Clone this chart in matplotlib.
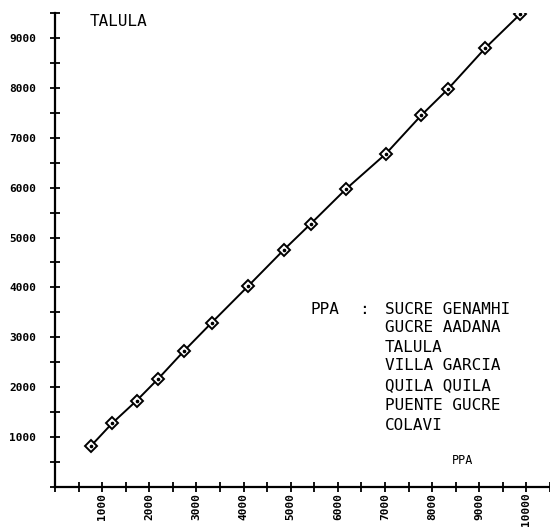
import matplotlib
matplotlib.use("Agg")
import matplotlib.pyplot as plt
from matplotlib.ticker import MultipleLocator, FixedLocator

# Cumulative PPA (x) vs cumulative TALULA (y)
ppa_cum = [760, 1215, 1730, 2190, 2735, 3320, 4100, 4850, 5430, 6170,
           7020, 7770, 8330, 9130, 9860]
talula_cum = [820, 1280, 1730, 2170, 2725, 3290, 4030, 4750, 5280, 5970,
              6680, 7450, 7970, 8800, 9470]

title = "TALULA"
stations = ["SUCRE GENAMHI", "GUCRE AADANA", "TALULA", "VILLA GARCIA",
            "QUILA QUILA", "PUENTE GUCRE", "COLAVI"]
xtick_vals = [1000, 2000, 3000, 4000, 5000, 6000, 7000, 8000, 9000, 10000]
ytick_vals = [1000, 2000, 3000, 4000, 5000, 6000, 7000, 8000, 9000]
xlabel = "PPA"

W, H = 550, 529
fig = plt.figure(figsize=(W / 100, H / 100), dpi=100)
plt.rcParams['font.family'] = ['DejaVu Sans Mono']

def fx(px):
    return px / W

def fy(py):
    return 1 - py / H

left, right = fx(55), fx(550)
bottom, top = fy(487), fy(13)
ax = fig.add_axes([left, bottom, right - left, top - bottom])
ax.set_xlim(0, 10500)
ax.set_ylim(0, 9500)

ax.plot(ppa_cum, talula_cum, color="black", lw=1.4, marker="D", ms=6.5,
        mfc="white", mec="black", mew=1.4, zorder=3)
ax.plot(ppa_cum, talula_cum, ls="none", marker="o", ms=1.6, color="black",
        zorder=4)

for s in ["top", "right"]:
    ax.spines[s].set_visible(False)
for s in ["left", "bottom"]:
    ax.spines[s].set_linewidth(1.6)

ax.xaxis.set_major_locator(FixedLocator(xtick_vals))
ax.yaxis.set_major_locator(FixedLocator(ytick_vals))
ax.xaxis.set_minor_locator(MultipleLocator(500))
ax.yaxis.set_minor_locator(MultipleLocator(500))
ax.set_xticklabels([str(v) for v in xtick_vals], rotation=90, fontsize=8,
                   fontweight="bold")
ax.set_yticklabels([str(v) for v in ytick_vals], fontsize=8,
                   fontweight="bold")
ax.tick_params(which="both", direction="inout", length=7, width=1.3,
               color="black")
ax.tick_params(axis="y", which="major", pad=10)
ax.tick_params(axis="x", which="major", pad=0.5)

fs = 11.5
fig.text(fx(90), fy(22), title, fontsize=fs, ha="left", va="center")
fig.text(fx(311), fy(310), "PPA", fontsize=fs, ha="left", va="center")
fig.text(fx(364), fy(310), ":", fontsize=fs, ha="center", va="center")
line_y = [309, 328, 347, 366, 386, 406, 426]
for name, py in zip(stations, line_y):
    fig.text(fx(385), fy(py), name, fontsize=fs, ha="left", va="center")
fig.text(fx(463), fy(461), xlabel, fontsize=8.5, ha="center", va="center")

fig.savefig("out.png", dpi=100)
